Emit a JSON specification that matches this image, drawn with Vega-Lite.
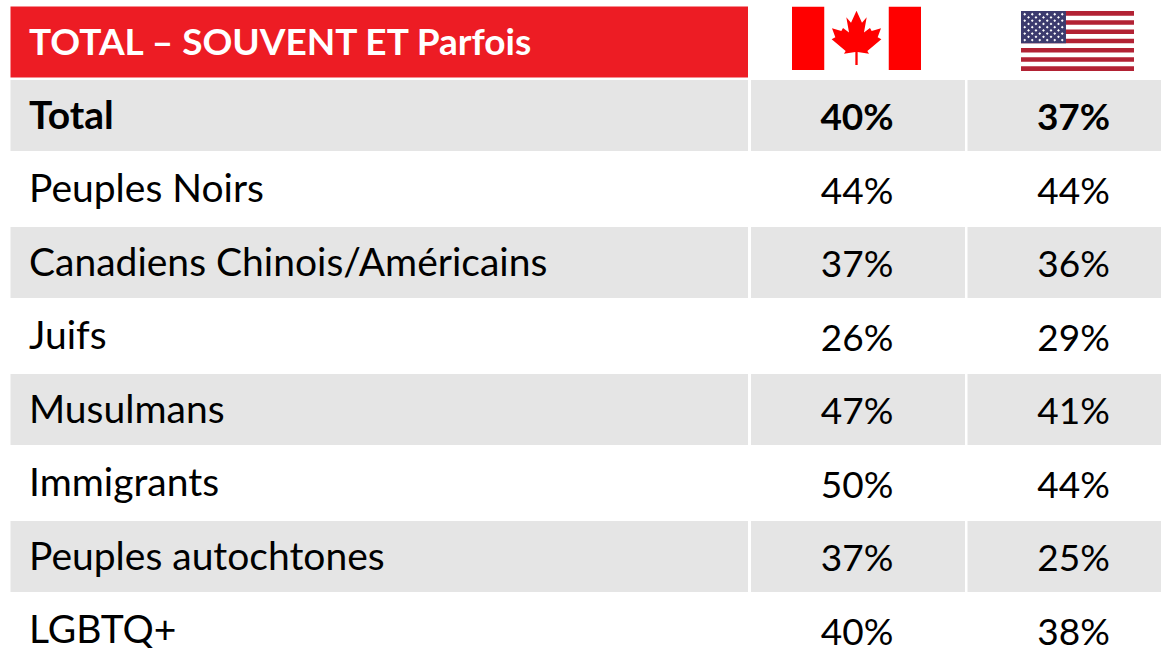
{"$schema":"https://vega.github.io/schema/vega-lite/v6.json","padding":{"left":10.5,"top":5.25,"right":0,"bottom":0},"background":"white","spacing":2.5,"config":{"view":{"stroke":null},"concat":{"spacing":2.5}},"datasets":{"table":[{"row":"TOTAL – SOUVENT ET Parfois","rowType":"header"},{"row":"Total","rowType":"total","ca":0.40,"us":0.37},{"row":"Peuples Noirs","rowType":"plain","ca":0.44,"us":0.44},{"row":"Canadiens Chinois/Américains","rowType":"shaded","ca":0.37,"us":0.36},{"row":"Juifs","rowType":"plain","ca":0.26,"us":0.29},{"row":"Musulmans","rowType":"shaded","ca":0.47,"us":0.41},{"row":"Immigrants","rowType":"plain","ca":0.50,"us":0.44},{"row":"Peuples autochtones","rowType":"shaded","ca":0.37,"us":0.25},{"row":"LGBTQ+","rowType":"plain","ca":0.40,"us":0.38}],"flagRow":[{"row":"TOTAL – SOUVENT ET Parfois"}]},"hconcat":[{"width":737.5,"height":640,"data":{"name":"table"},"encoding":{"y":{"field":"row","type":"nominal","sort":null,"axis":null,"scale":{"domain":["TOTAL – SOUVENT ET Parfois","Total","Peuples Noirs","Canadiens Chinois/Américains","Juifs","Musulmans","Immigrants","Peuples autochtones","LGBTQ+"],"range":[0,661.5],"paddingInner":0.034,"paddingOuter":0.017}}},"layer":[{"transform":[{"filter":"datum.rowType==='header'"}],"mark":{"type":"rect","color":"#ED1C24"}},{"transform":[{"filter":"datum.rowType==='total'||datum.rowType==='shaded'"}],"mark":{"type":"rect","color":"#E5E5E5"}},{"transform":[{"filter":"datum.rowType==='header'"}],"mark":{"type":"text","align":"left","baseline":"middle","dx":18.5,"dy":1.5,"font":"Lato","fontSize":37,"fontWeight":"bold","color":"white"},"encoding":{"x":{"datum":0,"type":"quantitative","axis":null,"scale":{"domain":[0,1]}},"text":{"field":"row"}}},{"transform":[{"filter":"datum.rowType==='total'"}],"mark":{"type":"text","align":"left","baseline":"middle","dx":18.5,"dy":1,"font":"Lato","fontSize":39,"fontWeight":"bold","color":"black"},"encoding":{"x":{"datum":0,"type":"quantitative","axis":null,"scale":{"domain":[0,1]}},"text":{"field":"row"}}},{"transform":[{"filter":"datum.rowType==='plain'||datum.rowType==='shaded'"}],"mark":{"type":"text","align":"left","baseline":"middle","dx":18.5,"dy":1,"font":"Lato","fontSize":39,"color":"black"},"encoding":{"x":{"datum":0,"type":"quantitative","axis":null,"scale":{"domain":[0,1]}},"text":{"field":"row"}}}]},{"width":214,"height":640,"data":{"name":"table"},"encoding":{"y":{"field":"row","type":"nominal","sort":null,"axis":null,"scale":{"domain":["TOTAL – SOUVENT ET Parfois","Total","Peuples Noirs","Canadiens Chinois/Américains","Juifs","Musulmans","Immigrants","Peuples autochtones","LGBTQ+"],"range":[0,661.5],"paddingInner":0.034,"paddingOuter":0.017}}},"layer":[{"transform":[{"filter":"datum.rowType==='total'||datum.rowType==='shaded'"}],"mark":{"type":"rect","color":"#E5E5E5"}},{"transform":[{"filter":"datum.rowType==='total'"}],"mark":{"type":"text","baseline":"middle","dx":-1,"dy":3.5,"font":"Lato","fontSize":37,"fontWeight":"bold","color":"black"},"encoding":{"text":{"field":"ca","format":".0%"}}},{"transform":[{"filter":"datum.rowType==='plain'||datum.rowType==='shaded'"}],"mark":{"type":"text","baseline":"middle","dx":-1,"dy":3.5,"font":"Lato","fontSize":37,"color":"black"},"encoding":{"text":{"field":"ca","format":".0%"}}},{"data":{"name":"flagRow"},"mark":{"type":"point","filled":true,"opacity":1,"color":"#FF0000","size":16641,"xOffset":-1.5,"yOffset":-3.7,"shape":"M-1 -0.49H-0.5V0.49H-1ZM0.5 -0.49H1V0.49H0.5ZM0 -0.429L0.085 -0.243L0.158 -0.326L0.116 -0.088L0.209 -0.16L0.235 -0.114L0.38 -0.155L0.328 -0.016L0.385 0.016L0.168 0.196L0.194 0.238L0.018 0.212L0.018 0.413L-0.018 0.413L-0.018 0.212L-0.194 0.238L-0.168 0.196L-0.385 0.016L-0.328 -0.016L-0.38 -0.155L-0.235 -0.114L-0.209 -0.16L-0.116 -0.088L-0.158 -0.326L-0.085 -0.243Z"}}]},{"width":194,"height":640,"data":{"name":"table"},"encoding":{"y":{"field":"row","type":"nominal","sort":null,"axis":null,"scale":{"domain":["TOTAL – SOUVENT ET Parfois","Total","Peuples Noirs","Canadiens Chinois/Américains","Juifs","Musulmans","Immigrants","Peuples autochtones","LGBTQ+"],"range":[0,661.5],"paddingInner":0.034,"paddingOuter":0.017}}},"layer":[{"transform":[{"filter":"datum.rowType==='total'||datum.rowType==='shaded'"}],"mark":{"type":"rect","color":"#E5E5E5"}},{"transform":[{"filter":"datum.rowType==='total'"}],"mark":{"type":"text","baseline":"middle","dy":3.5,"dx":9,"font":"Lato","fontSize":37,"fontWeight":"bold","color":"black"},"encoding":{"text":{"field":"us","format":".0%"}}},{"transform":[{"filter":"datum.rowType==='plain'||datum.rowType==='shaded'"}],"mark":{"type":"text","baseline":"middle","dy":3.5,"dx":9,"font":"Lato","fontSize":37,"color":"black"},"encoding":{"text":{"field":"us","format":".0%"}}},{"data":{"name":"flagRow"},"mark":{"type":"point","filled":true,"opacity":1,"color":"#B22234","size":12769,"xOffset":13,"yOffset":-1,"shape":"M-1 -0.531H1V-0.449H-1ZM-1 -0.368H1V-0.286H-1ZM-1 -0.204H1V-0.122H-1ZM-1 -0.041H1V0.041H-1ZM-1 0.123H1V0.205H-1ZM-1 0.286H1V0.368H-1ZM-1 0.449H1V0.531H-1Z"}},{"data":{"name":"flagRow"},"mark":{"type":"point","filled":true,"opacity":1,"color":"#3C3B6E","size":12769,"xOffset":13,"yOffset":-1,"shape":"M-1 -0.531H-0.204V0.041H-1Z"}},{"data":{"name":"flagRow"},"mark":{"type":"point","filled":true,"opacity":1,"color":"#FFFFFF","size":12769,"xOffset":13,"yOffset":-1,"shape":"M-0.934 -0.499l.025 .025l-.025 .025l-.025 -.025zM-0.801 -0.499l.025 .025l-.025 .025l-.025 -.025zM-0.668 -0.499l.025 .025l-.025 .025l-.025 -.025zM-0.536 -0.499l.025 .025l-.025 .025l-.025 -.025zM-0.403 -0.499l.025 .025l-.025 .025l-.025 -.025zM-0.27 -0.499l.025 .025l-.025 .025l-.025 -.025zM-0.867 -0.442l.025 .025l-.025 .025l-.025 -.025zM-0.735 -0.442l.025 .025l-.025 .025l-.025 -.025zM-0.602 -0.442l.025 .025l-.025 .025l-.025 -.025zM-0.469 -0.442l.025 .025l-.025 .025l-.025 -.025zM-0.337 -0.442l.025 .025l-.025 .025l-.025 -.025zM-0.934 -0.385l.025 .025l-.025 .025l-.025 -.025zM-0.801 -0.385l.025 .025l-.025 .025l-.025 -.025zM-0.668 -0.385l.025 .025l-.025 .025l-.025 -.025zM-0.536 -0.385l.025 .025l-.025 .025l-.025 -.025zM-0.403 -0.385l.025 .025l-.025 .025l-.025 -.025zM-0.27 -0.385l.025 .025l-.025 .025l-.025 -.025zM-0.867 -0.327l.025 .025l-.025 .025l-.025 -.025zM-0.735 -0.327l.025 .025l-.025 .025l-.025 -.025zM-0.602 -0.327l.025 .025l-.025 .025l-.025 -.025zM-0.469 -0.327l.025 .025l-.025 .025l-.025 -.025zM-0.337 -0.327l.025 .025l-.025 .025l-.025 -.025zM-0.934 -0.27l.025 .025l-.025 .025l-.025 -.025zM-0.801 -0.27l.025 .025l-.025 .025l-.025 -.025zM-0.668 -0.27l.025 .025l-.025 .025l-.025 -.025zM-0.536 -0.27l.025 .025l-.025 .025l-.025 -.025zM-0.403 -0.27l.025 .025l-.025 .025l-.025 -.025zM-0.27 -0.27l.025 .025l-.025 .025l-.025 -.025zM-0.867 -0.213l.025 .025l-.025 .025l-.025 -.025zM-0.735 -0.213l.025 .025l-.025 .025l-.025 -.025zM-0.602 -0.213l.025 .025l-.025 .025l-.025 -.025zM-0.469 -0.213l.025 .025l-.025 .025l-.025 -.025zM-0.337 -0.213l.025 .025l-.025 .025l-.025 -.025zM-0.934 -0.156l.025 .025l-.025 .025l-.025 -.025zM-0.801 -0.156l.025 .025l-.025 .025l-.025 -.025zM-0.668 -0.156l.025 .025l-.025 .025l-.025 -.025zM-0.536 -0.156l.025 .025l-.025 .025l-.025 -.025zM-0.403 -0.156l.025 .025l-.025 .025l-.025 -.025zM-0.27 -0.156l.025 .025l-.025 .025l-.025 -.025zM-0.867 -0.099l.025 .025l-.025 .025l-.025 -.025zM-0.735 -0.099l.025 .025l-.025 .025l-.025 -.025zM-0.602 -0.099l.025 .025l-.025 .025l-.025 -.025zM-0.469 -0.099l.025 .025l-.025 .025l-.025 -.025zM-0.337 -0.099l.025 .025l-.025 .025l-.025 -.025zM-0.934 -0.042l.025 .025l-.025 .025l-.025 -.025zM-0.801 -0.042l.025 .025l-.025 .025l-.025 -.025zM-0.668 -0.042l.025 .025l-.025 .025l-.025 -.025zM-0.536 -0.042l.025 .025l-.025 .025l-.025 -.025zM-0.403 -0.042l.025 .025l-.025 .025l-.025 -.025zM-0.27 -0.042l.025 .025l-.025 .025l-.025 -.025z"}}]}]}
